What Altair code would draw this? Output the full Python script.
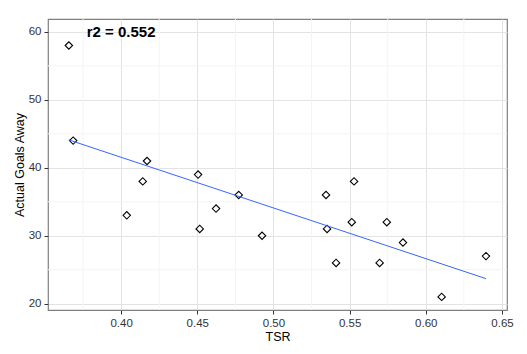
import altair as alt
import pandas as pd

tsr = [0.3657, 0.3685, 0.4170, 0.4505, 0.4142, 0.4037, 0.4516, 0.4623, 0.4772, 0.4925,
       0.5345, 0.5529, 0.5352, 0.5514, 0.5744, 0.5850, 0.5411, 0.5697, 0.6104, 0.6395]
goals_away = [58, 44, 41, 39, 38, 33, 31, 34, 36, 30,
              36, 38, 31, 32, 32, 29, 26, 26, 21, 27]

x_major = [0.40, 0.45, 0.50, 0.55, 0.60, 0.65]
x_minor = [0.375, 0.425, 0.475, 0.525, 0.575, 0.625]
y_major = [20, 30, 40, 50, 60]
y_minor = [25, 35, 45, 55]
x_domain = [0.352, 0.6533]
y_domain = [19.07, 61.9]
label_text = ["r2 = 0.552"]
label_x = [0.40]
label_y = [60]

df = pd.DataFrame({"TSR": tsr, "Goals": goals_away})

xs = alt.Scale(domain=x_domain, nice=False, zero=False)
ys = alt.Scale(domain=y_domain, nice=False, zero=False)

x_axis = alt.Axis(values=x_major, format=".2f", title="TSR", grid=True,
                  gridColor="#E3E3E3", gridWidth=1, domain=False,
                  tickColor="#333333", tickSize=4, labelColor="#333333",
                  labelFontSize=11.5, labelFont="Liberation Sans", labelPadding=3,
                  titleFont="Liberation Sans", titleFontSize=12.5, titleFontWeight="normal",
                  titleColor="#000000", titlePadding=2)
y_axis = alt.Axis(values=y_major, title="Actual Goals Away", grid=True,
                  gridColor="#E3E3E3", gridWidth=1, domain=False,
                  tickColor="#333333", tickSize=4, labelColor="#333333",
                  labelFontSize=11.5, labelFont="Liberation Sans", labelPadding=3,
                  titleFont="Liberation Sans", titleFontSize=12.5, titleFontWeight="normal",
                  titleColor="#000000", titlePadding=2)

points = alt.Chart(df).mark_point(
    shape="diamond", filled=False, color="black", size=55, strokeWidth=1.1, opacity=1
).encode(
    x=alt.X("TSR:Q", scale=xs, axis=x_axis),
    y=alt.Y("Goals:Q", scale=ys, axis=y_axis),
)

minor_x = alt.Chart(pd.DataFrame({"TSR": x_minor})).mark_rule(
    color="#F4F4F4", strokeWidth=1).encode(x=alt.X("TSR:Q", scale=xs, axis=x_axis))
minor_y = alt.Chart(pd.DataFrame({"Goals": y_minor})).mark_rule(
    color="#F4F4F4", strokeWidth=1).encode(y=alt.Y("Goals:Q", scale=ys, axis=y_axis))

line = alt.Chart(df).transform_regression("TSR", "Goals").mark_line(
    color="#3366FF", strokeWidth=1
).encode(x=alt.X("TSR:Q", scale=xs, axis=x_axis), y=alt.Y("Goals:Q", scale=ys, axis=y_axis))

label = alt.Chart(pd.DataFrame({"TSR": label_x, "Goals": label_y, "t": label_text})).mark_text(
    font="Liberation Sans", fontSize=15, fontWeight="bold", color="black",
    align="center", baseline="middle"
).encode(x=alt.X("TSR:Q", scale=xs, axis=x_axis),
         y=alt.Y("Goals:Q", scale=ys, axis=y_axis), text="t:N")

chart = alt.layer(minor_x, minor_y, points, line, label).properties(
    width=459, height=291,
    autosize=alt.AutoSizeParams(type="none"),
    padding={"left": 48, "top": 19, "right": 20, "bottom": 44},
    background="white",
).configure_view(stroke="#7F7F7F", strokeWidth=1.2)

chart.save("out.html", embed_options={"renderer": "svg", "actions": False})
